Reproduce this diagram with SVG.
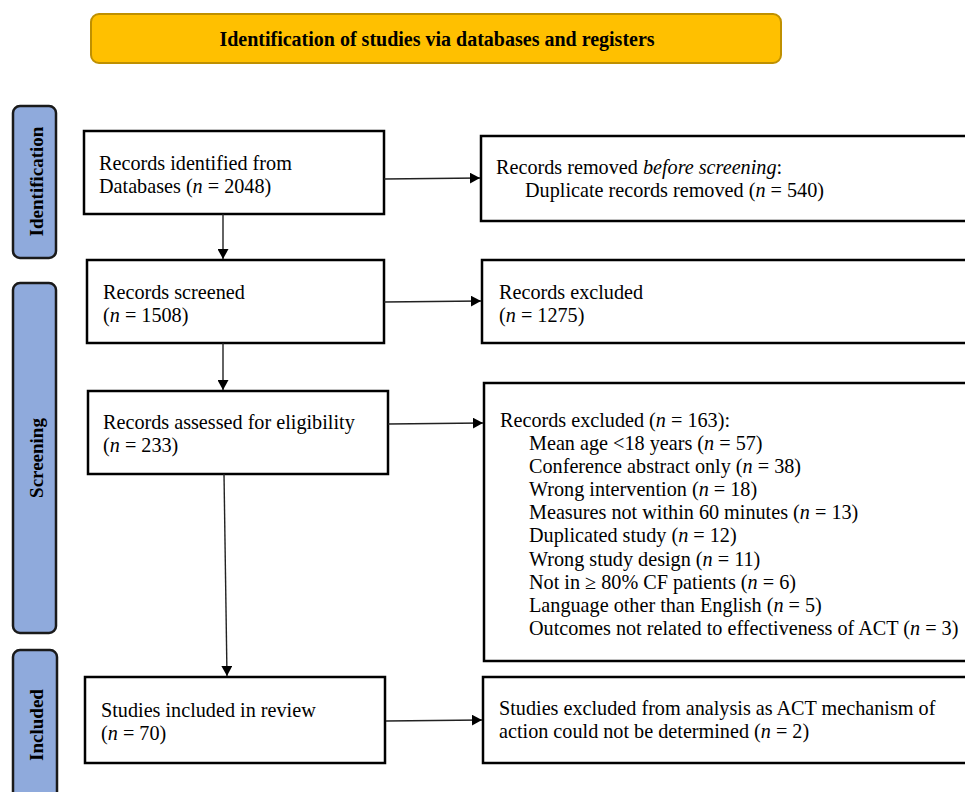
<svg xmlns="http://www.w3.org/2000/svg" width="965" height="792" viewBox="0 0 965 792">
<style>
.box{fill:#fff;stroke:#000;stroke-width:2.5}
.pill{fill:#8FAADC;stroke:#1a1a1a;stroke-width:2.5}
.t{font-family:"Liberation Serif","Times New Roman",serif;font-size:20.2px;fill:#000}
.lab{font-family:"Liberation Serif","Times New Roman",serif;font-size:19px;font-weight:bold;fill:#000}
.hd{font-family:"Liberation Serif","Times New Roman",serif;font-size:20px;font-weight:bold;fill:#000}
.c{stroke:#222;stroke-width:1.4;fill:none;marker-end:url(#ah)}
</style>
<defs>
<marker id="ah" markerWidth="11" markerHeight="11" refX="10" refY="5.5" orient="auto" markerUnits="userSpaceOnUse">
<path d="M0,0 L10,5.5 L0,11 Z" fill="#000"/>
</marker>
</defs>
<rect width="965" height="792" fill="#fff"/>
<g id="header">
<rect x="91" y="14" width="690" height="49" rx="8" fill="#FFC000" stroke="#BF9000" stroke-width="2"/>
<text class="hd" x="437" y="46" text-anchor="middle">Identification of studies via databases and registers</text>
</g>
<g id="phase-identification">
<rect class="pill" x="13" y="106" width="43" height="152" rx="7"/>
<text class="lab" transform="translate(43,181.5) rotate(-90)" text-anchor="middle">Identification</text>
</g>
<g id="phase-screening">
<rect class="pill" x="13" y="283" width="43" height="350" rx="7"/>
<text class="lab" transform="translate(43,458) rotate(-90)" text-anchor="middle">Screening</text>
</g>
<g id="phase-included">
<rect class="pill" x="13" y="650" width="44" height="170" rx="7"/>
<text class="lab" transform="translate(43,725) rotate(-90)" text-anchor="middle">Included</text>
</g>
<g id="n1">
<rect class="box" x="84" y="131" width="300" height="83"/>
<text class="t" x="99" y="170">Records identified from</text>
<text class="t" x="99" y="193">Databases (<tspan font-style="italic">n</tspan> = 2048)</text>
</g>
<g id="n2">
<rect class="box" x="481" y="136" width="490" height="85"/>
<text class="t" x="496" y="174">Records removed <tspan font-style="italic">before screening</tspan>:</text>
<text class="t" x="525" y="197">Duplicate records removed (<tspan font-style="italic">n</tspan> = 540)</text>
</g>
<g id="n3">
<rect class="box" x="87" y="260" width="297" height="83"/>
<text class="t" x="103" y="299">Records screened</text>
<text class="t" x="103" y="322">(<tspan font-style="italic">n</tspan> = 1508)</text>
</g>
<g id="n4">
<rect class="box" x="482" y="260" width="489" height="83"/>
<text class="t" x="499" y="299">Records excluded</text>
<text class="t" x="499" y="322">(<tspan font-style="italic">n</tspan> = 1275)</text>
</g>
<g id="n5">
<rect class="box" x="88" y="391" width="300" height="83"/>
<text class="t" x="103" y="429">Records assessed for eligibility</text>
<text class="t" x="103" y="452">(<tspan font-style="italic">n</tspan> = 233)</text>
</g>
<g id="n6">
<rect class="box" x="484" y="383" width="487" height="278"/>
<text class="t" x="500" y="427">Records excluded (<tspan font-style="italic">n</tspan> = 163):</text>
<text class="t" x="529" y="450">Mean age &lt;18 years (<tspan font-style="italic">n</tspan> = 57)</text>
<text class="t" x="529" y="473">Conference abstract only (<tspan font-style="italic">n</tspan> = 38)</text>
<text class="t" x="529" y="496">Wrong intervention (<tspan font-style="italic">n</tspan> = 18)</text>
<text class="t" x="529" y="519">Measures not within 60 minutes (<tspan font-style="italic">n</tspan> = 13)</text>
<text class="t" x="529" y="542">Duplicated study (<tspan font-style="italic">n</tspan> = 12)</text>
<text class="t" x="529" y="566">Wrong study design (<tspan font-style="italic">n</tspan> = 11)</text>
<text class="t" x="529" y="589">Not in ≥ 80% CF patients (<tspan font-style="italic">n</tspan> = 6)</text>
<text class="t" x="529" y="612">Language other than English (<tspan font-style="italic">n</tspan> = 5)</text>
<text class="t" x="529" y="635">Outcomes not related to effectiveness of ACT (<tspan font-style="italic">n</tspan> = 3)</text>
</g>
<g id="n7">
<rect class="box" x="85" y="677" width="300" height="86"/>
<text class="t" x="101" y="717">Studies included in review</text>
<text class="t" x="101" y="740">(<tspan font-style="italic">n</tspan> = 70)</text>
</g>
<g id="n8">
<rect class="box" x="483" y="677" width="488" height="86"/>
<text class="t" x="499" y="715">Studies excluded from analysis as ACT mechanism of</text>
<text class="t" x="499" y="738">action could not be determined (<tspan font-style="italic">n</tspan> = 2)</text>
</g>
<g id="connectors">
<path class="c" d="M384,179 L480,178"/>
<path class="c" d="M223,214 L223,259"/>
<path class="c" d="M384,302 L481,301"/>
<path class="c" d="M223,343 L223,390"/>
<path class="c" d="M388,424 L483,423"/>
<path class="c" d="M224,474 L227,676"/>
<path class="c" d="M386,721 L482,720"/>
</g>
</svg>
